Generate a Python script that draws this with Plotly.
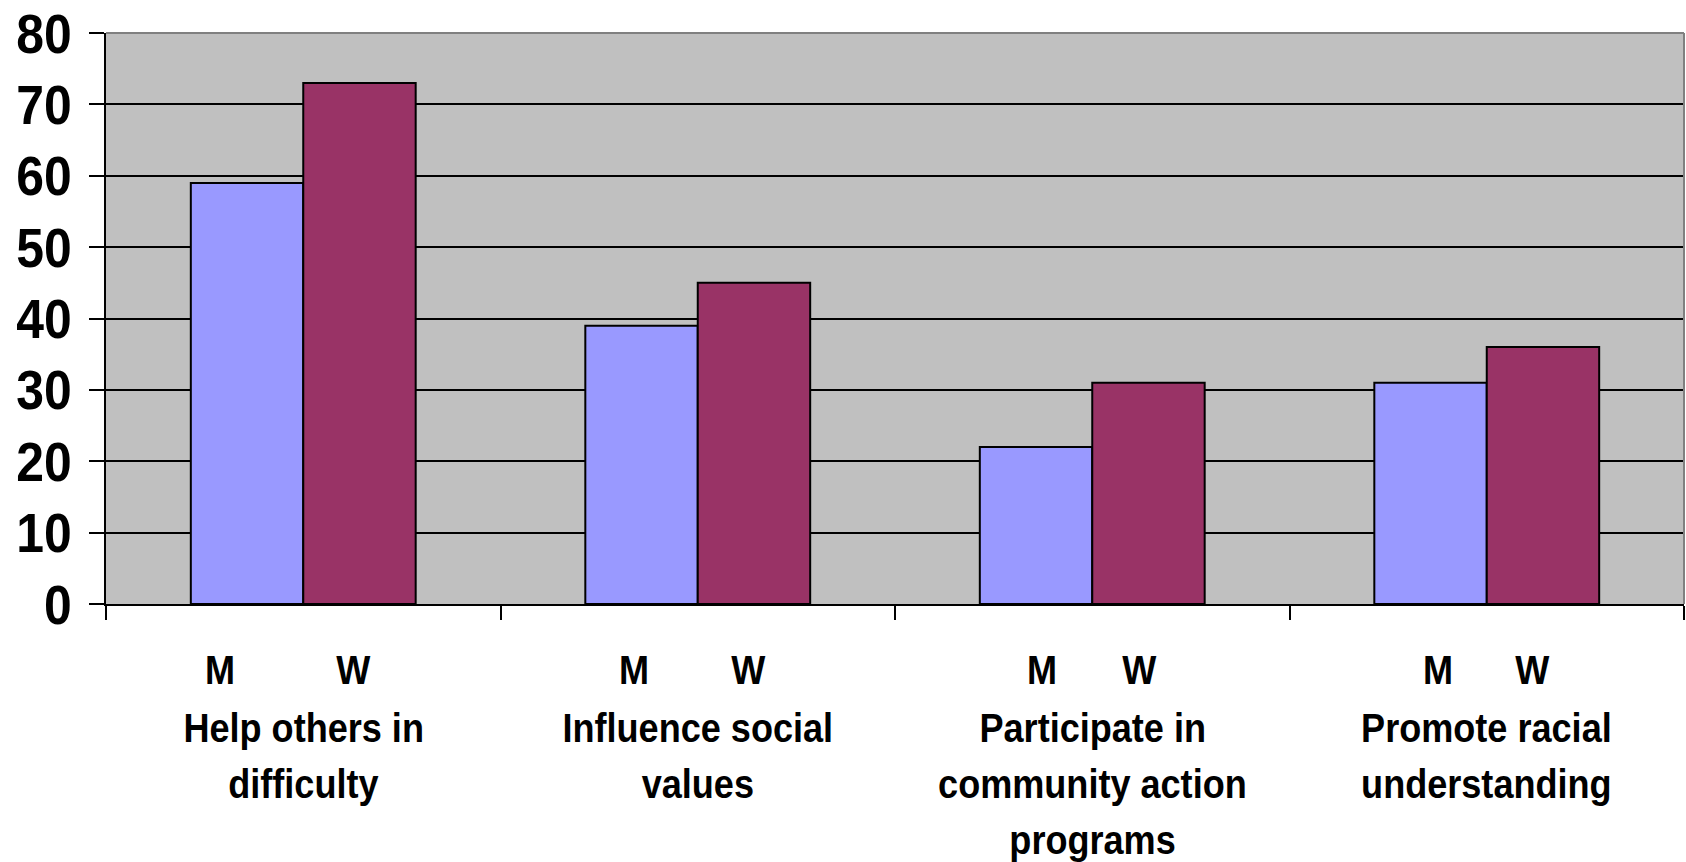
import plotly.graph_objects as go

# Survey categories, shown as multi-line labels under each pair of bars
categories = [
    ["Help others in", "difficulty"],
    ["Influence social", "values"],
    ["Participate in", "community action", "programs"],
    ["Promote racial", "understanding"],
]
men = [59, 39, 22, 31]
women = [73, 45, 31, 36]
series_labels = ["M", "W"]
y_ticks = [0, 10, 20, 30, 40, 50, 60, 70, 80]

FONT = "Liberation Sans Narrow, Arial Narrow, Liberation Sans, Arial, sans-serif"
M_COLOR = "#9999FF"
W_COLOR = "#993366"

W, H = 1686, 862
L, R, T, B = 106, 2, 33, 258

x = list(range(len(categories)))

fig = go.Figure()
fig.add_trace(go.Bar(x=x, y=men, name=series_labels[0],
                     marker=dict(color=M_COLOR, line=dict(color="black", width=2))))
fig.add_trace(go.Bar(x=x, y=women, name=series_labels[1],
                     marker=dict(color=W_COLOR, line=dict(color="black", width=2))))

annotations = []
# horizontal pixel shift of the M / W letters relative to the group centre
mw_shift = [(-83, 50), (-64, 51), (-50, 47), (-49, 46)]
for i, lines in enumerate(categories):
    for lab, dx in zip(series_labels, mw_shift[i]):
        annotations.append(dict(
            x=i, y=0, xref="x", yref="paper", xshift=dx, yshift=-66,
            text=lab, showarrow=False, yanchor="middle", xanchor="center",
            font=dict(family=FONT, size=41, color="black", weight="bold"),
        ))
    for k, line in enumerate(lines):
        annotations.append(dict(
            x=i, y=0, xref="x", yref="paper", yshift=-(124 + 56 * k),
            text=line, showarrow=False, yanchor="middle", xanchor="center",
            font=dict(family=FONT, size=41, color="black", weight="bold"),
        ))

fig.update_layout(
    width=W, height=H,
    margin=dict(l=L, r=R, t=T, b=B, pad=0),
    paper_bgcolor="white",
    plot_bgcolor="#C0C0C0",
    barmode="group",
    bargap=0.43,
    bargroupgap=0,
    showlegend=False,
    annotations=annotations,
    shapes=[
        dict(type="line", xref="paper", yref="paper", x0=0, x1=1, y0=1, y1=1,
             line=dict(color="#808080", width=2)),
        dict(type="line", xref="paper", yref="paper", x0=1, x1=1, y0=0, y1=1,
             line=dict(color="#808080", width=2)),
    ],
)

fig.update_xaxes(
    range=[-0.5, len(categories) - 0.5],
    tickmode="array",
    tickvals=[i - 0.5 for i in range(len(categories) + 1)],
    showticklabels=False,
    ticks="outside", ticklen=14, tickwidth=2, tickcolor="black",
    showline=True, linecolor="black", linewidth=2,
    showgrid=False, zeroline=False, automargin=False,
)

fig.update_yaxes(
    range=[0, 80],
    tickmode="array", tickvals=y_ticks,
    ticks="outside", ticklen=15, tickwidth=2, tickcolor="black",
    ticklabelstandoff=6,
    tickfont=dict(family=FONT, size=56, color="black", weight="bold"),
    showline=True, linecolor="black", linewidth=2,
    showgrid=True, gridcolor="black", gridwidth=2,
    zeroline=False, automargin=False,
)

# Narrow the bold lettering horizontally (condensed look), keeping each
# label anchored where plotly placed it.
narrow_js = """
var gd = document.getElementById('{plot_id}');
function narrow(sel, k, anchor) {
  gd.querySelectorAll(sel).forEach(function (el) {
    var bb = el.getBBox();
    var ax = anchor === 'end' ? bb.x + bb.width : bb.x + bb.width / 2;
    var t = el.getAttribute('transform') || '';
    el.setAttribute('transform', t + ' translate(' + ax + ',0) scale(' + k + ',1) translate(' + (-ax) + ',0)');
  });
}
narrow('.ytick text', 0.89, 'end');
narrow('.annotation-text', 0.88, 'middle');
"""

fig.write_html("out.html", post_script=narrow_js)
